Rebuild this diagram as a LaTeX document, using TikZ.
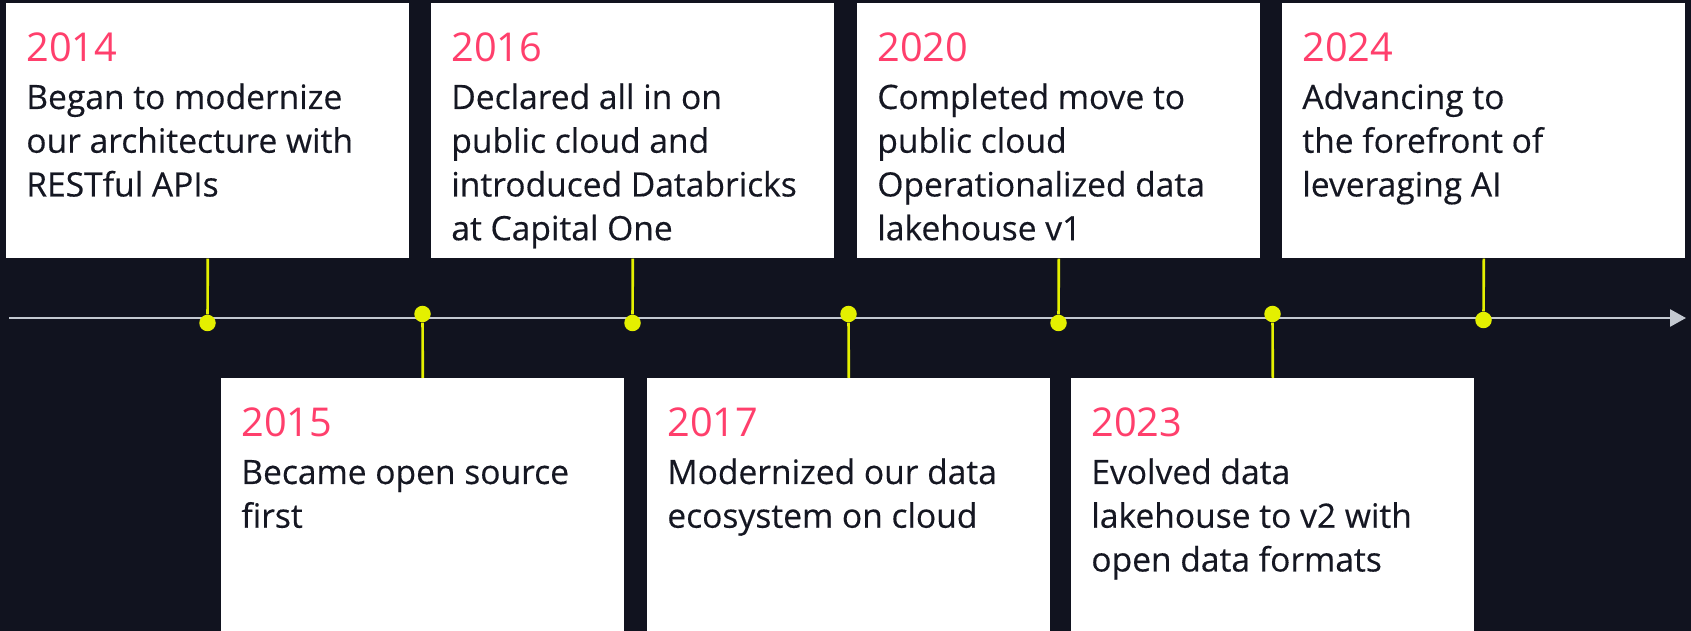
\documentclass[tikz,border=0pt]{standalone}
\usepackage{fontspec}
\setmainfont{Open Sans}
\newfontfamily\notefamily[FakeBold=0.35]{Open Sans}
\usetikzlibrary{arrows.meta}

\definecolor{night}{HTML}{11131F}
\definecolor{ink}{HTML}{151722}
\definecolor{rose}{HTML}{FF3F6C}
\definecolor{lime}{HTML}{E4F000}
\definecolor{rail}{HTML}{C4C9D1}

\newcommand{\yearfont}{\fontsize{22.6}{26}\selectfont}
\newcommand{\notefont}{\notefamily\fontsize{19.1}{24.9}\selectfont}

\begin{document}
\begin{tikzpicture}[x=0.02cm, y=-0.02cm,
    card/.style={fill=white, minimum width=8.06cm, minimum height=5.1cm, anchor=north west, inner sep=0},
    yearlbl/.style={anchor=base west, inner sep=0, text=rose, font=\yearfont},
    notelbl/.style={anchor=north west, inner sep=0, text=ink, font=\notefont, align=left},
    mdot/.style={circle, fill=lime, minimum size=0.33cm, inner sep=0},
    stem/.style={draw=lime, line width=1.5pt}]
        % canvas
        \fill[night] (0,0) rectangle (1691,631);
        \useasboundingbox (0,0) rectangle (1691,631);

        % time axis
        \coordinate (tl0) at (9,318);
        \coordinate (tl1) at (1686,318);
        \draw[rail, line width=1.5pt, -{Triangle[length=0.32cm, width=0.34cm]}] (tl0) -- (tl1);

        % cards above the axis
        \node[card] (c2014) at (6,3) {};
        \node[card] (c2016) at (431,3) {};
        \node[card] (c2020) at (857,3) {};
        \node[card] (c2024) at (1282,3) {};

        % cards below the axis
        \node[card] (c2015) at (221,378) {};
        \node[card] (c2017) at (647,378) {};
        \node[card] (c2023) at (1071,378) {};

        \node[yearlbl] (y2014) at ([shift={(20,59)}]c2014.north west) {2014};
        \node[notelbl] (n2014) at ([shift={(20,75)}]c2014.north west) {\strut Began to modernize\\our architecture with\\RESTful APIs};

        \node[yearlbl] (y2015) at ([shift={(20,59)}]c2015.north west) {2015};
        \node[notelbl] (n2015) at ([shift={(20,75)}]c2015.north west) {\strut Became open source\\first};

        \node[yearlbl] (y2016) at ([shift={(20,59)}]c2016.north west) {2016};
        \node[notelbl] (n2016) at ([shift={(20,75)}]c2016.north west) {\strut Declared all in on\\public cloud and\\introduced Databricks\\at Capital One};

        \node[yearlbl] (y2017) at ([shift={(20,59)}]c2017.north west) {2017};
        \node[notelbl] (n2017) at ([shift={(20,75)}]c2017.north west) {\strut Modernized our data\\ecosystem on cloud};

        \node[yearlbl] (y2020) at ([shift={(20,59)}]c2020.north west) {2020};
        \node[notelbl] (n2020) at ([shift={(20,75)}]c2020.north west) {\strut Completed move to\\public cloud\\Operationalized data\\lakehouse v1};

        \node[yearlbl] (y2023) at ([shift={(20,59)}]c2023.north west) {2023};
        \node[notelbl] (n2023) at ([shift={(20,75)}]c2023.north west) {\strut Evolved data\\lakehouse to v2 with\\open data formats};

        \node[yearlbl] (y2024) at ([shift={(20,59)}]c2024.north west) {2024};
        \node[notelbl] (n2024) at ([shift={(20,75)}]c2024.north west) {\strut Advancing to\\the forefront of\\leveraging AI};

        % milestones on the axis
        \node[mdot] (d2014) at (207.5,323) {};
        \node[mdot] (d2015) at (422.5,314) {};
        \node[mdot] (d2016) at (632.5,323) {};
        \node[mdot] (d2017) at (848.5,314) {};
        \node[mdot] (d2020) at (1058.5,323) {};
        \node[mdot] (d2023) at (1272.5,314) {};
        \node[mdot] (d2024) at (1483.5,320) {};

        \draw[stem] (c2014.south) -- (d2014);
        \draw[stem] (c2016.south) -- (d2016);
        \draw[stem] (c2020.south) -- (d2020);
        \draw[stem] (c2024.south) -- (d2024);
        \draw[stem] (c2015.north) -- (d2015);
        \draw[stem] (c2017.north) -- (d2017);
        \draw[stem] (c2023.north) -- (d2023);
\end{tikzpicture}
\end{document}
